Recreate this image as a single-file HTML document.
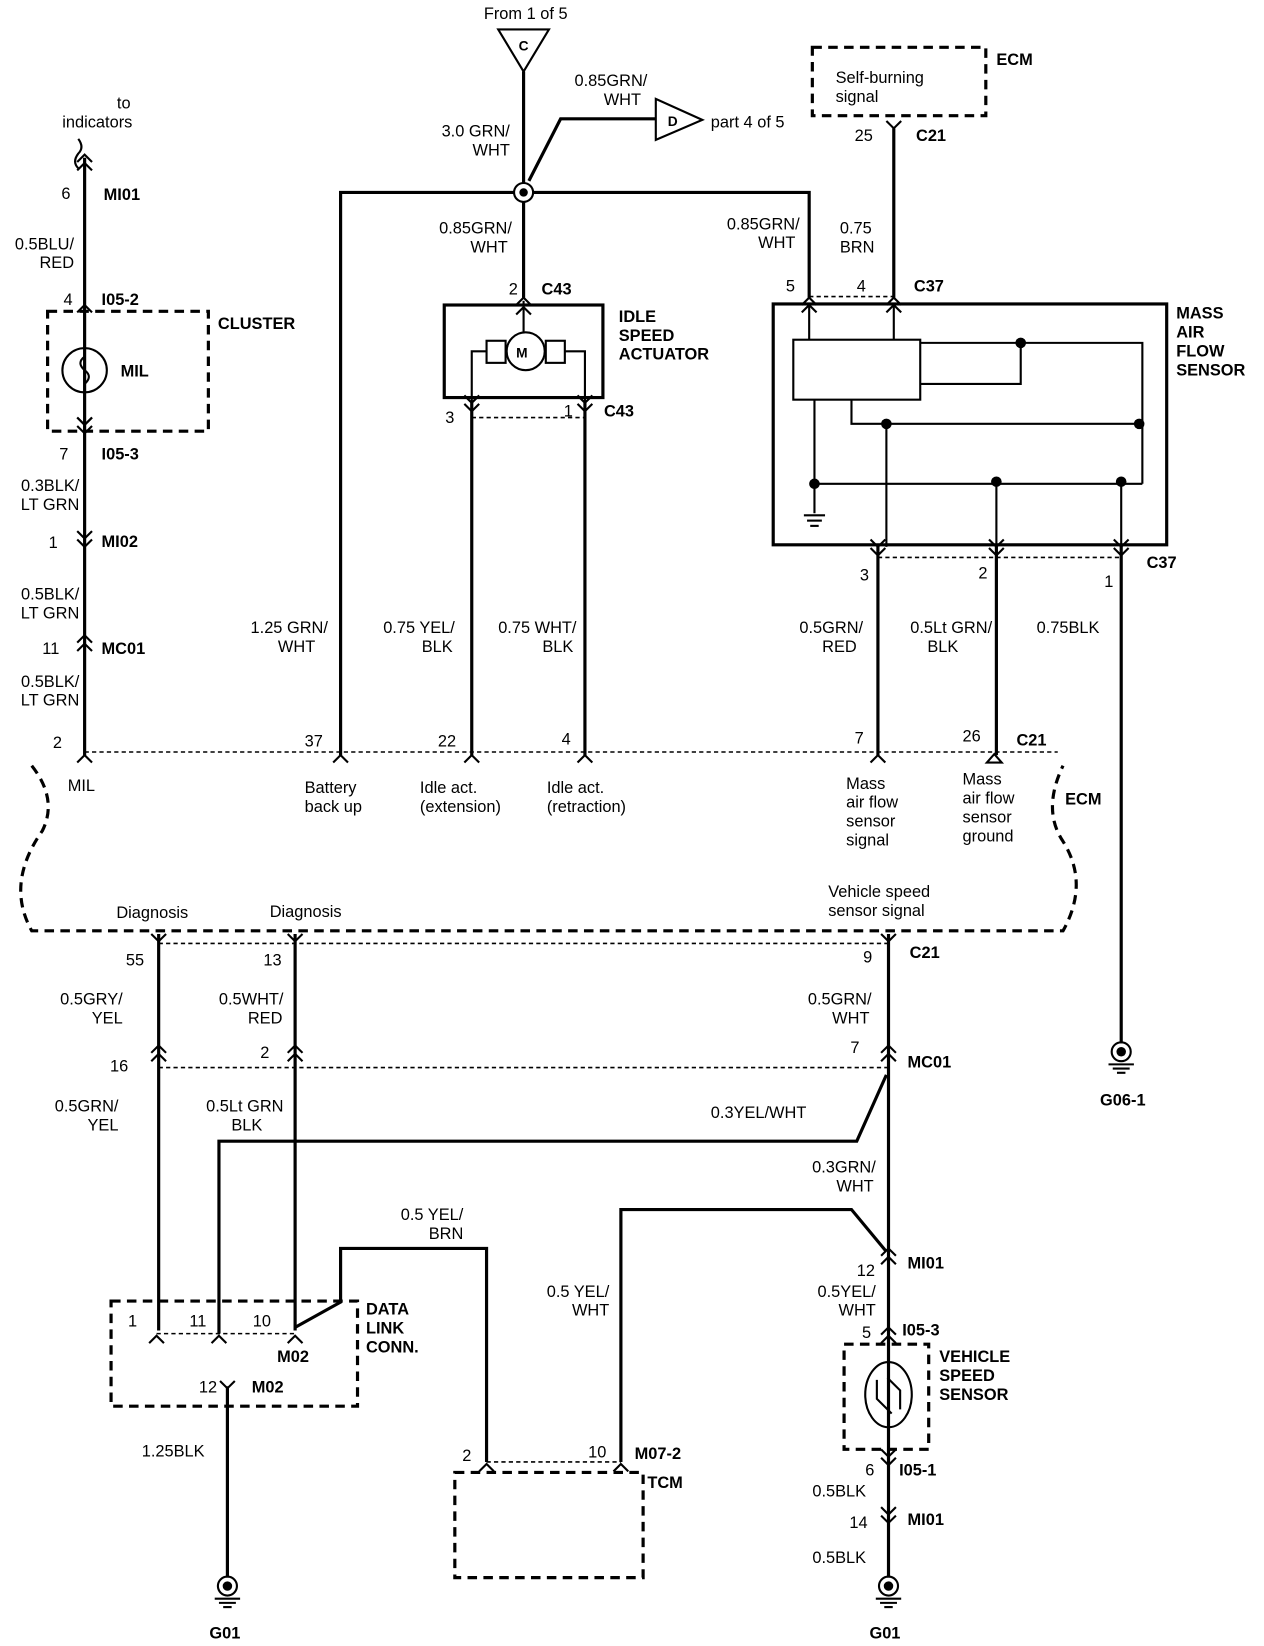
<!DOCTYPE html>
<html><head><meta charset="utf-8"><style>
html,body{margin:0;padding:0;background:#fff;}
svg{display:block;}
text{font-family:"Liberation Sans",Arial,sans-serif;font-size:15.5px;fill:#000;}
.b{font-weight:bold;}
.r{text-anchor:end;}
.m{text-anchor:middle;}
</style></head><body>
<svg width="1264" height="1646" viewBox="0 0 1195 1565" preserveAspectRatio="none" xmlns="http://www.w3.org/2000/svg">
<defs>
<g id="cu"><polyline points="-7,7 0,0 7,7" fill="none" stroke="#000" stroke-width="2"/></g>
<g id="cd"><polyline points="-7,-7 0,0 7,-7" fill="none" stroke="#000" stroke-width="2"/></g>
<g id="cc"><polyline points="-7,-1 0,-8 7,-1" fill="none" stroke="#000" stroke-width="2"/><polyline points="-7,7 0,0 7,7" fill="none" stroke="#000" stroke-width="2"/></g>
<g id="cv"><polyline points="-7,-7 0,0 7,-7" fill="none" stroke="#000" stroke-width="2"/><polyline points="-7,1 0,8 7,1" fill="none" stroke="#000" stroke-width="2"/></g>
<g id="gnd"><circle cx="0" cy="0" r="9" fill="none" stroke="#000" stroke-width="2"/><circle cx="0" cy="0" r="4.5" fill="#000"/><line x1="-12" y1="12" x2="12" y2="12" stroke="#000" stroke-width="2"/><line x1="-8" y1="16" x2="8" y2="16" stroke="#000" stroke-width="2"/><line x1="-4" y1="20" x2="4" y2="20" stroke="#000" stroke-width="2"/></g>
</defs>
<g stroke="#000" stroke-width="3" fill="none">
<!-- top trunk -->
<line x1="495" y1="68" x2="495" y2="283"/>
<polyline points="500,172 530,113 620,113"/>
<polyline points="322,718 322,183 765,183 765,283"/>
<line x1="845" y1="122" x2="845" y2="283"/>
<!-- idle actuator -->
<rect x="420" y="290" width="150" height="88"/>
<line x1="446" y1="383" x2="446" y2="718"/>
<line x1="553" y1="383" x2="553" y2="718"/>
<!-- MAF -->
<rect x="731" y="289" width="372" height="229"/>
<line x1="830" y1="520" x2="830" y2="718"/>
<line x1="942" y1="520" x2="942" y2="718"/>
<line x1="1060" y1="520" x2="1060" y2="992"/>
<!-- left column -->
<line x1="80" y1="150" x2="80" y2="718"/>
<!-- bottom -->
<line x1="150" y1="888" x2="150" y2="1265"/>
<line x1="279" y1="888" x2="279" y2="1265"/>
<line x1="840" y1="888" x2="840" y2="1500"/>
<polyline points="207,1268 207,1085 810,1085 838,1022"/>
<polyline points="279,1262 322,1238 322,1187 460,1187 460,1390"/>
<polyline points="587,1390 587,1150 805,1150 838,1190"/>
<line x1="215" y1="1318" x2="215" y2="1500"/>
</g>
<g stroke="#000" stroke-width="2" fill="none">
<polygon points="471,28 519,28 495,68"/>
<polygon points="620,94 620,133 664,114"/>
<circle cx="495" cy="183" r="9" fill="#fff"/>
<path d="M74,132 q6,8 0,14 q-6,8 0,14" stroke-width="2"/>
<!-- motor -->
<circle cx="497" cy="334" r="18"/>
<rect x="460" y="324" width="18" height="21"/><rect x="516" y="324" width="18" height="21"/>
<polyline points="460,334 446,334 446,383"/><polyline points="534,334 553,334 553,383"/>
<line x1="495" y1="286" x2="495" y2="316"/>
<!-- MAF internals -->
<rect x="750" y="323" width="120" height="57"/>
<line x1="765" y1="289" x2="765" y2="323"/><line x1="845" y1="289" x2="845" y2="323"/>
<polyline points="870,326 1080,326 1080,460"/>
<polyline points="870,365 965,365 965,326"/>
<polyline points="805,380 805,403 1077,403"/>
<line x1="838" y1="403" x2="838" y2="520"/>
<line x1="770" y1="380" x2="770" y2="488"/>
<polyline points="770,460 1080,460"/>
<line x1="942" y1="458" x2="942" y2="520"/><line x1="1060" y1="458" x2="1060" y2="520"/>
<line x1="760" y1="490" x2="780" y2="490"/><line x1="763" y1="495" x2="777" y2="495"/><line x1="766" y1="500" x2="774" y2="500"/>
<!-- MIL lamp -->
<circle cx="80" cy="352" r="21"/>
<path d="M80,331 v8 q-8,6 0,13 q8,6 0,13 v8"/>
<!-- VSS -->
<ellipse cx="840" cy="1326" rx="22" ry="31"/>
<path d="M829,1312 v18 l14,14 M851,1340 v-18 l-12,-12"/>
</g>
<g fill="#000">
<circle cx="495" cy="183" r="4"/>
<circle cx="965" cy="326" r="5"/><circle cx="838" cy="403" r="5"/><circle cx="1077" cy="403" r="5"/>
<circle cx="770" cy="460" r="5"/><circle cx="942" cy="458" r="5"/><circle cx="1060" cy="458" r="5"/>
</g>
<!-- dashed elements -->
<g stroke="#000" stroke-width="3" fill="none" stroke-dasharray="9,6">
<rect x="768" y="45" width="164" height="65"/>
<rect x="45" y="296" width="152" height="114"/>
<path d="M30,728 Q55,760 40,790 Q5,840 30,885 L1005,885 Q1030,840 1005,800 Q985,770 1005,728"/>
<rect x="105" y="1237" width="233" height="100"/>
<rect x="430" y="1400" width="178" height="100"/>
<rect x="798" y="1278" width="80" height="100"/>
</g>
<g stroke="#000" stroke-width="1.5" fill="none" stroke-dasharray="4,3">
<line x1="765" y1="282" x2="845" y2="282"/>
<line x1="446" y1="397" x2="553" y2="397"/>
<line x1="830" y1="530" x2="1060" y2="530"/>
<line x1="80" y1="715" x2="1000" y2="715"/>
<line x1="150" y1="897" x2="840" y2="897"/>
<line x1="150" y1="1015" x2="840" y2="1015"/>
<line x1="148" y1="1268" x2="279" y2="1268"/>
<line x1="460" y1="1390" x2="587" y2="1390"/>
</g>
<!-- connectors -->
<use href="#cc" x="80" y="155"/><use href="#cu" x="80" y="290"/><use href="#cd" x="80" y="404"/><use href="#cv" x="80" y="404"/>
<use href="#cv" x="80" y="512"/><use href="#cc" x="80" y="612"/><use href="#cu" x="80" y="718"/>
<use href="#cd" x="845" y="122"/>
<use href="#cu" x="495" y="283"/><use href="#cu" x="495" y="292"/>
<use href="#cd" x="446" y="383"/><use href="#cd" x="553" y="383"/><use href="#cv" x="446" y="383"/><use href="#cv" x="553" y="383"/>
<use href="#cu" x="765" y="283"/><use href="#cu" x="845" y="283"/><use href="#cu" x="765" y="290"/><use href="#cu" x="845" y="290"/>
<use href="#cv" x="830" y="520"/><use href="#cv" x="942" y="520"/><use href="#cv" x="1060" y="520"/>
<use href="#cu" x="322" y="718"/><use href="#cu" x="446" y="718"/><use href="#cu" x="553" y="718"/><use href="#cu" x="830" y="718"/>
<polygon points="933,725 940,717 947,725" fill="#fff" stroke="#000" stroke-width="2"/>
<use href="#cd" x="150" y="895"/><use href="#cd" x="279" y="895"/><use href="#cd" x="840" y="895"/>
<use href="#cc" x="150" y="1002"/><use href="#cc" x="279" y="1002"/><use href="#cc" x="840" y="1002"/>
<use href="#cc" x="840" y="1195"/><use href="#cc" x="840" y="1270"/><use href="#cv" x="840" y="1385"/><use href="#cv" x="840" y="1440"/>
<use href="#cu" x="148" y="1270"/><use href="#cu" x="207" y="1270"/><use href="#cu" x="279" y="1270"/>
<use href="#cd" x="215" y="1320"/>
<use href="#cu" x="460" y="1392"/><use href="#cu" x="587" y="1392"/>
<use href="#gnd" x="215" y="1508"/><use href="#gnd" x="840" y="1508"/><use href="#gnd" x="1060" y="1000"/>
<!-- text -->
<text x="497" y="18" class="m">From 1 of 5</text>
<text x="495" y="48" class="m b" style="font-size:13px">C</text>
<text x="636" y="120" class="m b" style="font-size:13px">D</text>
<text x="672" y="121">part 4 of 5</text>
<text x="612" y="82" class="r">0.85GRN/</text><text x="606" y="100" class="r">WHT</text>
<text x="482" y="130" class="r">3.0 GRN/</text><text x="482" y="148" class="r">WHT</text>
<text x="790" y="79">Self-burning</text><text x="790" y="97">signal</text>
<text x="942" y="62" class="b">ECM</text>
<text x="808" y="134">25</text><text x="866" y="134" class="b">C21</text>
<text x="484" y="222" class="r">0.85GRN/</text><text x="480" y="240" class="r">WHT</text>
<text x="756" y="218" class="r">0.85GRN/</text><text x="752" y="236" class="r">WHT</text>
<text x="794" y="222">0.75</text><text x="794" y="240">BRN</text>
<text x="743" y="277">5</text><text x="810" y="277">4</text><text x="864" y="277" class="b">C37</text>
<text x="481" y="280">2</text><text x="512" y="280" class="b">C43</text>
<text x="585" y="306" class="b">IDLE</text><text x="585" y="324" class="b">SPEED</text><text x="585" y="342" class="b">ACTUATOR</text>
<text x="488" y="340" class="b" style="font-size:13px">M</text>
<text x="421" y="402">3</text><text x="533" y="396">1</text><text x="571" y="396" class="b">C43</text>
<text x="1112" y="303" class="b">MASS</text><text x="1112" y="321" class="b">AIR</text><text x="1112" y="339" class="b">FLOW</text><text x="1112" y="357" class="b">SENSOR</text>
<text x="813" y="552">3</text><text x="925" y="550">2</text><text x="1044" y="558">1</text><text x="1084" y="540" class="b">C37</text>
<text x="816" y="602" class="r">0.5GRN/</text><text x="810" y="620" class="r">RED</text>
<text x="938" y="602" class="r">0.5Lt GRN/</text><text x="906" y="620" class="r">BLK</text>
<text x="980" y="602">0.75BLK</text>
<text x="117" y="103" class="m">to</text><text x="92" y="121" class="m">indicators</text>
<text x="58" y="189">6</text><text x="98" y="190" class="b">MI01</text>
<text x="70" y="237" class="r">0.5BLU/</text><text x="70" y="255" class="r">RED</text>
<text x="60" y="290">4</text><text x="96" y="290" class="b">I05-2</text>
<text x="206" y="313" class="b">CLUSTER</text><text x="114" y="358" class="b">MIL</text>
<text x="56" y="437">7</text><text x="96" y="437" class="b">I05-3</text>
<text x="75" y="467" class="r">0.3BLK/</text><text x="75" y="485" class="r">LT GRN</text>
<text x="46" y="521">1</text><text x="96" y="520" class="b">MI02</text>
<text x="75" y="570" class="r">0.5BLK/</text><text x="75" y="588" class="r">LT GRN</text>
<text x="40" y="622">11</text><text x="96" y="622" class="b">MC01</text>
<text x="75" y="653" class="r">0.5BLK/</text><text x="75" y="671" class="r">LT GRN</text>
<text x="50" y="711">2</text><text x="64" y="752">MIL</text>
<text x="310" y="602" class="r">1.25 GRN/</text><text x="298" y="620" class="r">WHT</text>
<text x="430" y="602" class="r">0.75 YEL/</text><text x="428" y="620" class="r">BLK</text>
<text x="545" y="602" class="r">0.75 WHT/</text><text x="542" y="620" class="r">BLK</text>
<text x="288" y="710">37</text><text x="414" y="710">22</text><text x="531" y="708">4</text><text x="808" y="707">7</text><text x="910" y="705">26</text><text x="961" y="709" class="b">C21</text>
<text x="288" y="754">Battery</text><text x="288" y="772">back up</text>
<text x="397" y="754">Idle act.</text><text x="397" y="772">(extension)</text>
<text x="517" y="754">Idle act.</text><text x="517" y="772">(retraction)</text>
<text x="800" y="750">Mass</text><text x="800" y="768">air flow</text><text x="800" y="786">sensor</text><text x="800" y="804">signal</text>
<text x="910" y="746">Mass</text><text x="910" y="764">air flow</text><text x="910" y="782">sensor</text><text x="910" y="800">ground</text>
<text x="1007" y="765" class="b">ECM</text>
<text x="110" y="873">Diagnosis</text><text x="255" y="872">Diagnosis</text>
<text x="783" y="853">Vehicle speed</text><text x="783" y="871">sensor signal</text>
<text x="119" y="918">55</text><text x="249" y="918">13</text><text x="816" y="915">9</text><text x="860" y="911" class="b">C21</text>
<text x="116" y="955" class="r">0.5GRY/</text><text x="116" y="973" class="r">YEL</text>
<text x="268" y="955" class="r">0.5WHT/</text><text x="267" y="973" class="r">RED</text>
<text x="824" y="955" class="r">0.5GRN/</text><text x="822" y="973" class="r">WHT</text>
<text x="104" y="1019">16</text><text x="246" y="1006">2</text><text x="804" y="1001">7</text><text x="858" y="1015" class="b">MC01</text>
<text x="112" y="1057" class="r">0.5GRN/</text><text x="112" y="1075" class="r">YEL</text>
<text x="268" y="1057" class="r">0.5Lt GRN</text><text x="248" y="1075" class="r">BLK</text>
<text x="672" y="1063">0.3YEL/WHT</text>
<text x="828" y="1115" class="r">0.3GRN/</text><text x="826" y="1133" class="r">WHT</text>
<text x="438" y="1160" class="r">0.5 YEL/</text><text x="438" y="1178" class="r">BRN</text>
<text x="576" y="1233" class="r">0.5 YEL/</text><text x="576" y="1251" class="r">WHT</text>
<text x="828" y="1233" class="r">0.5YEL/</text><text x="828" y="1251" class="r">WHT</text>
<text x="810" y="1213">12</text><text x="858" y="1206" class="b">MI01</text>
<text x="815" y="1272">5</text><text x="853" y="1270" class="b">I05-3</text>
<text x="888" y="1295" class="b">VEHICLE</text><text x="888" y="1313" class="b">SPEED</text><text x="888" y="1331" class="b">SENSOR</text>
<text x="818" y="1403">6</text><text x="850" y="1403" class="b">I05-1</text>
<text x="768" y="1423">0.5BLK</text>
<text x="803" y="1453">14</text><text x="858" y="1450" class="b">MI01</text>
<text x="768" y="1486">0.5BLK</text>
<text x="822" y="1558" class="b">G01</text>
<text x="1040" y="1051" class="b">G06-1</text>
<text x="346" y="1250" class="b">DATA</text><text x="346" y="1268" class="b">LINK</text><text x="346" y="1286" class="b">CONN.</text>
<text x="121" y="1261">1</text><text x="179" y="1261">11</text><text x="239" y="1261">10</text><text x="262" y="1295" class="b">M02</text>
<text x="188" y="1324">12</text><text x="238" y="1324" class="b">M02</text>
<text x="134" y="1385">1.25BLK</text>
<text x="198" y="1558" class="b">G01</text>
<text x="437" y="1389">2</text><text x="556" y="1386">10</text><text x="600" y="1387" class="b">M07-2</text><text x="612" y="1415" class="b">TCM</text>
</svg>
</body></html>
